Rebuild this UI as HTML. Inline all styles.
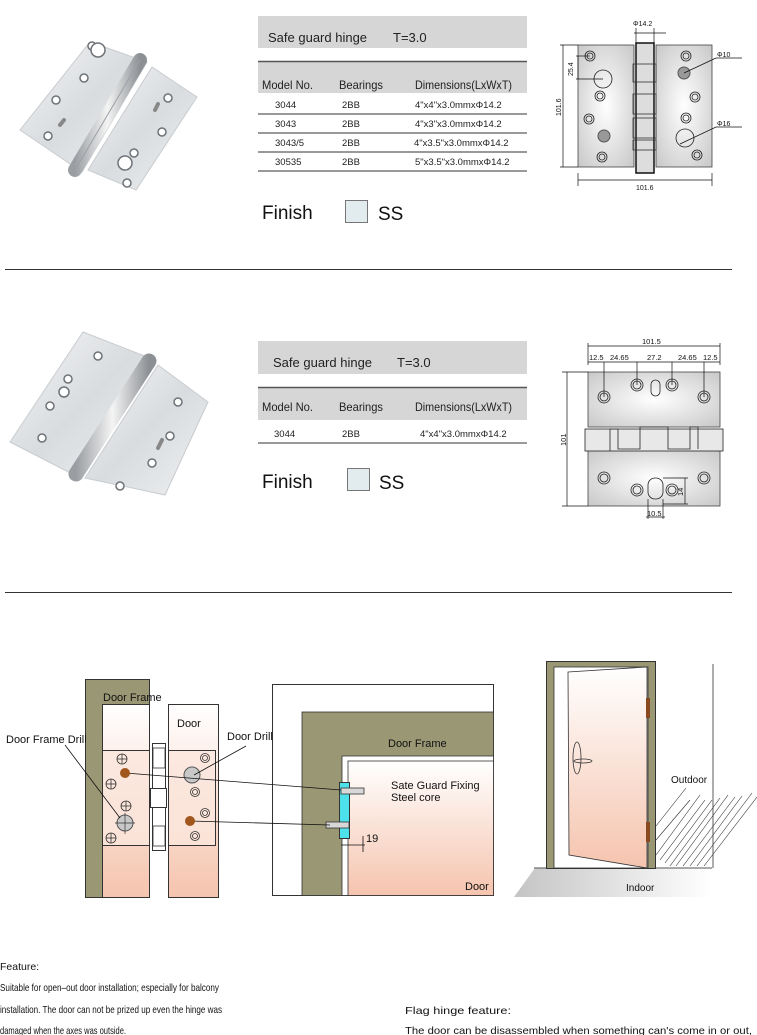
<!DOCTYPE html>
<html><head><meta charset="utf-8"><style>
html,body{margin:0;padding:0;background:#fff;}
svg{display:block;font-family:"Liberation Sans",Arial,sans-serif;}
</style></head><body>
<svg width="757" height="1035" viewBox="0 0 757 1035" xmlns="http://www.w3.org/2000/svg">
<defs>
<linearGradient id="steel" x1="0" y1="0" x2="1" y2="1">
<stop offset="0" stop-color="#f4f5f6"/><stop offset="0.5" stop-color="#d9dcdf"/><stop offset="1" stop-color="#eef0f1"/></linearGradient>
<linearGradient id="pin" x1="0" y1="0" x2="1" y2="0">
<stop offset="0" stop-color="#9a9ea2"/><stop offset="0.5" stop-color="#f4f4f4"/><stop offset="1" stop-color="#8c9094"/></linearGradient>
<radialGradient id="plate" cx="0.5" cy="0.5" r="0.7">
<stop offset="0" stop-color="#ffffff"/><stop offset="1" stop-color="#c8c8c8"/></radialGradient>
<linearGradient id="pink" x1="0" y1="0" x2="0" y2="1">
<stop offset="0" stop-color="#ffffff"/><stop offset="1" stop-color="#f5c4ae"/></linearGradient>
<linearGradient id="ground" x1="0" y1="0" x2="1" y2="0">
<stop offset="0" stop-color="#c4c4c4"/><stop offset="1" stop-color="#ffffff"/></linearGradient>
</defs>

<!-- ===== Section 1 photo ===== -->
<polygon points="90,42 147,62 82,172 20,130" fill="url(#steel)" stroke="#c9cccf"/>
<polygon points="152,67 197,97 136,190 88,170" fill="url(#steel)" stroke="#c9cccf"/>
<line x1="140" y1="60" x2="75" y2="170" stroke="url(#pin)" stroke-width="14" stroke-linecap="round"/>
<line x1="140" y1="60" x2="75" y2="170" stroke="#9aa0a5" stroke-width="1"/>
<g fill="#fff" stroke="#6e7378" stroke-width="1.5">
<circle cx="92" cy="46" r="4"/><circle cx="84" cy="78" r="4"/><circle cx="56" cy="100" r="4"/><circle cx="48" cy="136" r="4"/>
<circle cx="98" cy="50" r="7"/><circle cx="168" cy="98" r="4"/><circle cx="162" cy="132" r="4"/><circle cx="134" cy="153" r="4"/><circle cx="127" cy="183" r="4"/><circle cx="125" cy="163" r="7"/>
</g>
<line x1="60" y1="125" x2="64" y2="120" stroke="#888" stroke-width="4" stroke-linecap="round"/>
<line x1="155" y1="110" x2="158" y2="104" stroke="#888" stroke-width="4" stroke-linecap="round"/>

<!-- ===== Section 1 table ===== -->
<rect x="258" y="16" width="269" height="32" fill="#d6d6d6"/>
<text x="268" y="42" font-size="13" fill="#222">Safe guard hinge</text>
<text x="393" y="42" font-size="13" fill="#222">T=3.0</text>
<rect x="258" y="61" width="269" height="32" fill="#d6d6d6"/>
<line x1="258" y1="61.5" x2="527" y2="61.5" stroke="#555" stroke-width="1.5"/>
<g font-size="12" fill="#222">
<text x="262" y="89" textLength="51" lengthAdjust="spacingAndGlyphs">Model No.</text>
<text x="339" y="89" textLength="44" lengthAdjust="spacingAndGlyphs">Bearings</text>
<text x="415" y="89" textLength="97" lengthAdjust="spacingAndGlyphs">Dimensions(LxWxT)</text>
</g>
<g font-size="9.5" fill="#222">
<text x="275" y="108">3044</text><text x="342" y="108">2BB</text><text x="415" y="108">4"x4"x3.0mmx&#934;14.2</text>
<text x="275" y="127">3043</text><text x="342" y="127">2BB</text><text x="415" y="127">4"x3"x3.0mmx&#934;14.2</text>
<text x="275" y="146">3043/5</text><text x="342" y="146">2BB</text><text x="414" y="146">4"x3.5"x3.0mmx&#934;14.2</text>
<text x="275" y="165">30535</text><text x="342" y="165">2BB</text><text x="415" y="165">5"x3.5"x3.0mmx&#934;14.2</text>
</g>
<g stroke="#333" stroke-width="1">
<line x1="258" y1="114" x2="527" y2="114"/><line x1="258" y1="133" x2="527" y2="133"/>
<line x1="258" y1="152" x2="527" y2="152"/><line x1="258" y1="171" x2="527" y2="171"/>
</g>
<text x="262" y="219" font-size="19" fill="#111">Finish</text>
<rect x="345.5" y="200.5" width="22" height="22" fill="#e2ecee" stroke="#777"/>
<text x="378" y="220" font-size="19" fill="#111">SS</text>

<!-- ===== Section 1 drawing ===== -->
<rect x="578" y="45" width="56" height="122" fill="url(#plate)" stroke="#444" stroke-width="0.8"/>
<rect x="656" y="45" width="56" height="122" fill="url(#plate)" stroke="#444" stroke-width="0.8"/>
<rect x="636" y="43" width="18" height="130" fill="#ddd" stroke="#111" stroke-width="1.5"/>
<g fill="none" stroke="#333" stroke-width="0.8">
<rect x="633" y="64" width="23" height="18"/><rect x="633" y="94" width="23" height="20"/><rect x="633" y="118" width="23" height="20"/><rect x="633" y="140" width="23" height="10"/>
</g>
<g fill="none" stroke="#222" stroke-width="0.8">
<circle cx="590" cy="56" r="5"/><circle cx="590" cy="56" r="3"/><circle cx="600" cy="96" r="5"/><circle cx="600" cy="96" r="3"/>
<circle cx="589" cy="119" r="5"/><circle cx="589" cy="119" r="3"/><circle cx="602" cy="157" r="5"/><circle cx="602" cy="157" r="3"/>
<circle cx="603" cy="79" r="9"/>
<circle cx="686" cy="56" r="5"/><circle cx="686" cy="56" r="3"/><circle cx="695" cy="97" r="5"/><circle cx="695" cy="97" r="3"/>
<circle cx="686" cy="118" r="5"/><circle cx="686" cy="118" r="3"/><circle cx="697" cy="155" r="5"/><circle cx="697" cy="155" r="3"/>
<circle cx="685" cy="138" r="9"/>
</g>
<circle cx="604" cy="136" r="6" fill="#999" stroke="#555"/>
<circle cx="684" cy="73" r="6" fill="#999" stroke="#555"/>
<g stroke="#111" stroke-width="0.7" fill="none">
<line x1="634" y1="33" x2="666" y2="33"/><line x1="636" y1="28" x2="636" y2="43"/><line x1="654" y1="28" x2="654" y2="43"/>
<line x1="563" y1="45" x2="563" y2="167"/><line x1="560" y1="45" x2="578" y2="45"/><line x1="560" y1="167" x2="578" y2="167"/>
<line x1="576" y1="56" x2="590" y2="56"/><line x1="576" y1="79" x2="603" y2="79"/><line x1="578" y1="56" x2="578" y2="79"/>
<line x1="578" y1="180" x2="712" y2="180"/><line x1="578" y1="173" x2="578" y2="186"/><line x1="712" y1="173" x2="712" y2="186"/>
<line x1="684" y1="73" x2="716" y2="58"/><line x1="716" y1="58" x2="742" y2="58"/>
<line x1="680" y1="144" x2="716" y2="127"/><line x1="716" y1="127" x2="742" y2="127"/>
</g>
<g font-size="7" fill="#111">
<text x="633" y="26">&#934;14.2</text>
<text x="717" y="57">&#934;10</text><text x="717" y="126">&#934;16</text>
<text x="636" y="190">101.6</text>
<text transform="translate(561,116) rotate(-90)">101.6</text>
<text transform="translate(573,76) rotate(-90)">25.4</text>
</g>

<line x1="5" y1="269.5" x2="732" y2="269.5" stroke="#333"/>

<!-- ===== Section 2 photo ===== -->
<polygon points="83,332 155,360 80,478 10,442" fill="url(#steel)" stroke="#c9cccf"/>
<polygon points="158,365 208,402 165,495 85,478" fill="url(#steel)" stroke="#c9cccf"/>
<line x1="149" y1="361" x2="76" y2="474" stroke="url(#pin)" stroke-width="15" stroke-linecap="round"/>
<g fill="#fff" stroke="#6e7378" stroke-width="1.5">
<circle cx="98" cy="356" r="4"/><circle cx="68" cy="379" r="4"/><circle cx="50" cy="406" r="4"/><circle cx="42" cy="438" r="4"/><circle cx="64" cy="392" r="5"/>
<circle cx="178" cy="402" r="4"/><circle cx="170" cy="436" r="4"/><circle cx="152" cy="463" r="4"/><circle cx="120" cy="486" r="4"/>
</g>
<line x1="158" y1="448" x2="162" y2="440" stroke="#888" stroke-width="4" stroke-linecap="round"/>

<!-- ===== Section 2 table ===== -->
<rect x="258" y="341" width="269" height="33" fill="#d6d6d6"/>
<text x="273" y="367" font-size="13" fill="#222">Safe guard hinge</text>
<text x="397" y="367" font-size="13" fill="#222">T=3.0</text>
<rect x="258" y="387" width="269" height="33" fill="#d6d6d6"/>
<line x1="258" y1="387.5" x2="527" y2="387.5" stroke="#555" stroke-width="1.5"/>
<g font-size="12" fill="#222">
<text x="262" y="411" textLength="51" lengthAdjust="spacingAndGlyphs">Model No.</text>
<text x="339" y="411" textLength="44" lengthAdjust="spacingAndGlyphs">Bearings</text>
<text x="415" y="411" textLength="97" lengthAdjust="spacingAndGlyphs">Dimensions(LxWxT)</text>
</g>
<g font-size="9.5" fill="#222">
<text x="274" y="437">3044</text><text x="342" y="437">2BB</text><text x="420" y="437">4"x4"x3.0mmx&#934;14.2</text>
</g>
<line x1="258" y1="443" x2="527" y2="443" stroke="#333"/>
<text x="262" y="488" font-size="19" fill="#111">Finish</text>
<rect x="347.5" y="468.5" width="22" height="22" fill="#e2ecee" stroke="#777"/>
<text x="379" y="489" font-size="19" fill="#111">SS</text>

<!-- ===== Section 2 drawing ===== -->
<rect x="588" y="372" width="132" height="55" fill="url(#plate)" stroke="#444" stroke-width="0.8"/>
<rect x="588" y="450" width="132" height="56" fill="url(#plate)" stroke="#444" stroke-width="0.8"/>
<rect x="585" y="429" width="138" height="22" fill="#e8e8e8" stroke="#222" stroke-width="0.8"/>
<g fill="none" stroke="#222" stroke-width="0.8">
<polyline points="610,451 610,429 618,429 618,449 640,449 640,427 668,427 668,449 690,449 690,427 698,427 698,449"/>
</g>
<g fill="none" stroke="#222" stroke-width="0.8">
<circle cx="604" cy="397" r="6"/><circle cx="604" cy="397" r="4"/>
<circle cx="637" cy="385" r="6"/><circle cx="637" cy="385" r="4"/>
<circle cx="672" cy="385" r="6"/><circle cx="672" cy="385" r="4"/>
<circle cx="704" cy="397" r="6"/><circle cx="704" cy="397" r="4"/>
<rect x="651" y="380" width="9" height="16" rx="4.5"/>
<circle cx="604" cy="478" r="6"/><circle cx="604" cy="478" r="4"/>
<circle cx="637" cy="490" r="6"/><circle cx="637" cy="490" r="4"/>
<circle cx="672" cy="490" r="6"/><circle cx="672" cy="490" r="4"/>
<circle cx="704" cy="478" r="6"/><circle cx="704" cy="478" r="4"/>
<rect x="648" y="478" width="15" height="21" rx="7"/>
</g>
<g stroke="#111" stroke-width="0.7" fill="none">
<line x1="588" y1="346" x2="720" y2="346"/><line x1="588" y1="343" x2="588" y2="365"/><line x1="720" y1="343" x2="720" y2="365"/>
<line x1="588" y1="362" x2="720" y2="362"/>
<line x1="604" y1="362" x2="604" y2="397"/><line x1="637" y1="362" x2="637" y2="385"/><line x1="672" y1="362" x2="672" y2="385"/><line x1="704" y1="362" x2="704" y2="397"/>
<line x1="567" y1="372" x2="567" y2="506"/><line x1="562" y1="372" x2="588" y2="372"/><line x1="562" y1="506" x2="588" y2="506"/>
<line x1="648" y1="499" x2="648" y2="519"/><line x1="663" y1="499" x2="663" y2="519"/><line x1="646" y1="517" x2="665" y2="517"/>
<line x1="685" y1="478" x2="685" y2="504"/><line x1="663" y1="478" x2="688" y2="478"/><line x1="663" y1="504" x2="688" y2="504"/>
</g>
<g font-size="7.5" fill="#111">
<text x="642" y="344">101.5</text>
<text x="589" y="360">12.5</text><text x="610" y="360">24.65</text><text x="647" y="360">27.2</text><text x="678" y="360">24.65</text><text x="703" y="360">12.5</text>
<text transform="translate(566,446) rotate(-90)">101</text>
<text x="647" y="516">10.5</text>
<text transform="translate(683,496) rotate(-90)">14</text>
</g>

<line x1="5" y1="592.5" x2="732" y2="592.5" stroke="#333"/>

<!-- ===== Bottom left diagram ===== -->
<rect x="85.5" y="679.5" width="64" height="218" fill="#999774" stroke="#333"/>
<rect x="102.5" y="704.5" width="47" height="193" fill="url(#pink)" stroke="#333"/>
<rect x="168.5" y="704.5" width="50" height="193" fill="url(#pink)" stroke="#333"/>
<rect x="102.5" y="750.5" width="47" height="95" fill="#fbe6dc" stroke="#333" fill-opacity="0.8"/>
<rect x="168.5" y="750.5" width="47" height="95" fill="#fbe6dc" stroke="#333" fill-opacity="0.8"/>
<rect x="152.5" y="743.5" width="13" height="107" fill="#fff" stroke="#333"/>
<rect x="150.5" y="788.5" width="16" height="19" fill="#fff" stroke="#333"/>
<g fill="none" stroke="#333" stroke-width="0.8">
<rect x="153" y="748" width="12" height="20"/><rect x="153" y="826" width="12" height="20"/>
<circle cx="122" cy="759" r="5"/><circle cx="111" cy="784" r="5"/><circle cx="126" cy="806" r="5"/><circle cx="111" cy="838" r="5"/>
<circle cx="205" cy="758" r="4.5"/><circle cx="205" cy="758" r="2.5"/><circle cx="195" cy="792" r="4.5"/><circle cx="195" cy="792" r="2.5"/>
<circle cx="205" cy="813" r="4.5"/><circle cx="205" cy="813" r="2.5"/><circle cx="195" cy="836" r="4.5"/><circle cx="195" cy="836" r="2.5"/>
<line x1="117" y1="759" x2="127" y2="759"/><line x1="122" y1="754" x2="122" y2="764"/>
<line x1="106" y1="784" x2="116" y2="784"/><line x1="111" y1="779" x2="111" y2="789"/>
<line x1="121" y1="806" x2="131" y2="806"/><line x1="126" y1="801" x2="126" y2="811"/>
<line x1="106" y1="838" x2="116" y2="838"/><line x1="111" y1="833" x2="111" y2="843"/>
</g>
<circle cx="125" cy="823" r="8" fill="#c8c8c8" stroke="#555"/>
<line x1="115" y1="823" x2="135" y2="823" stroke="#333" stroke-width="0.7"/><line x1="125" y1="813" x2="125" y2="834" stroke="#333" stroke-width="0.7"/>
<circle cx="192" cy="775" r="8" fill="#c8c8c8" stroke="#555"/>
<g font-size="11" fill="#111">
<text x="103" y="701">Door Frame</text>
<text x="177" y="727">Door</text>
<text x="6" y="743">Door Frame Drill</text>
<text x="227" y="740">Door Drill</text>
</g>

<!-- ===== Bottom middle diagram ===== -->
<rect x="272.5" y="684.5" width="221" height="211" fill="#fff" stroke="#333"/>
<rect x="302" y="712" width="191.5" height="183.5" fill="#999774" stroke="#333" stroke-width="0.8"/>
<rect x="342" y="756" width="151.5" height="139.5" fill="#fff" stroke="#333" stroke-width="0.8"/>
<rect x="348" y="761" width="145.5" height="134.5" fill="url(#pink)" stroke="#333" stroke-width="0.8"/>
<rect x="339.5" y="782.5" width="10" height="56" fill="#4de1ec" stroke="#333"/>
<rect x="341" y="788" width="23" height="6" fill="#d8d8d8" stroke="#333" stroke-width="0.8"/>
<rect x="326" y="822" width="23" height="6" fill="#d8d8d8" stroke="#333" stroke-width="0.8"/>
<g stroke="#111" stroke-width="0.8">
<line x1="341" y1="845" x2="365" y2="845"/><line x1="363" y1="836" x2="363" y2="852"/>
</g>
<g font-size="11" fill="#111">
<text x="388" y="747">Door Frame</text>
<text x="391" y="789">Sate Guard Fixing</text>
<text x="391" y="801">Steel core</text>
<text x="366" y="842">19</text>
<text x="465" y="890">Door</text>
</g>

<!-- connectors on top -->
<g stroke="#111" stroke-width="0.8">
<line x1="65" y1="745" x2="120" y2="818"/>
<line x1="246" y1="746" x2="194" y2="775"/>
<line x1="125" y1="773" x2="341" y2="790"/>
<line x1="190" y1="821" x2="330" y2="825"/>
</g>
<circle cx="125" cy="773" r="5" fill="#a0561c"/>
<circle cx="190" cy="821" r="5" fill="#a0561c"/>

<!-- ===== Bottom right diagram ===== -->
<polygon points="535,868 712,868 712,897 514,897" fill="url(#ground)"/>
<line x1="534" y1="868" x2="712" y2="868" stroke="#555"/>
<rect x="546.5" y="661.5" width="109" height="207" fill="#999774" stroke="#333"/>
<rect x="554" y="667" width="94" height="201" fill="#fff" stroke="#333" stroke-width="0.8"/>
<polygon points="568,672 647,667 647,868 569,855" fill="url(#pink)" stroke="#333" stroke-width="0.8"/>
<rect x="646" y="698" width="4" height="20" fill="#8a4a20"/>
<rect x="646" y="822" width="4" height="20" fill="#8a4a20"/>
<ellipse cx="577" cy="758" rx="4" ry="16" fill="none" stroke="#333" stroke-width="0.8"/>
<ellipse cx="583" cy="761" rx="9" ry="2" fill="none" stroke="#333" stroke-width="0.8"/>
<line x1="713" y1="664" x2="713" y2="868" stroke="#333" stroke-width="0.8"/>
<g stroke="#333" stroke-width="0.6">
<line x1="656" y1="855" x2="700" y2="795"/><line x1="660" y1="860" x2="705" y2="800"/><line x1="665" y1="863" x2="712" y2="800"/>
<line x1="670" y1="866" x2="720" y2="798"/><line x1="676" y1="866" x2="728" y2="795"/><line x1="683" y1="866" x2="735" y2="797"/>
<line x1="690" y1="866" x2="742" y2="796"/><line x1="697" y1="866" x2="752" y2="793"/><line x1="704" y1="866" x2="757" y2="797"/>
<line x1="656" y1="840" x2="690" y2="800"/><line x1="656" y1="826" x2="686" y2="788"/>
</g>
<text x="671" y="783" font-size="10" fill="#111">Outdoor</text>
<text x="626" y="891" font-size="10" fill="#111">Indoor</text>

<!-- ===== Feature text ===== -->
<g font-size="10.5" fill="#111">
<text x="0" y="970">Feature:</text>
<text x="0" y="991" textLength="219" lengthAdjust="spacingAndGlyphs">Suitable for open–out door installation; especially for balcony</text>
<text x="0" y="1013" textLength="222" lengthAdjust="spacingAndGlyphs">installation. The door can not be prized up even the hinge was</text>
<text x="0" y="1034" textLength="126" lengthAdjust="spacingAndGlyphs">damaged when the axes was outside.</text>
<text x="405" y="1014" textLength="106" lengthAdjust="spacingAndGlyphs">Flag hinge feature:</text>
<text x="405" y="1034" textLength="347" lengthAdjust="spacingAndGlyphs">The door can be disassembled when something can's come in or out,</text>
</g>
</svg>
</body></html>
